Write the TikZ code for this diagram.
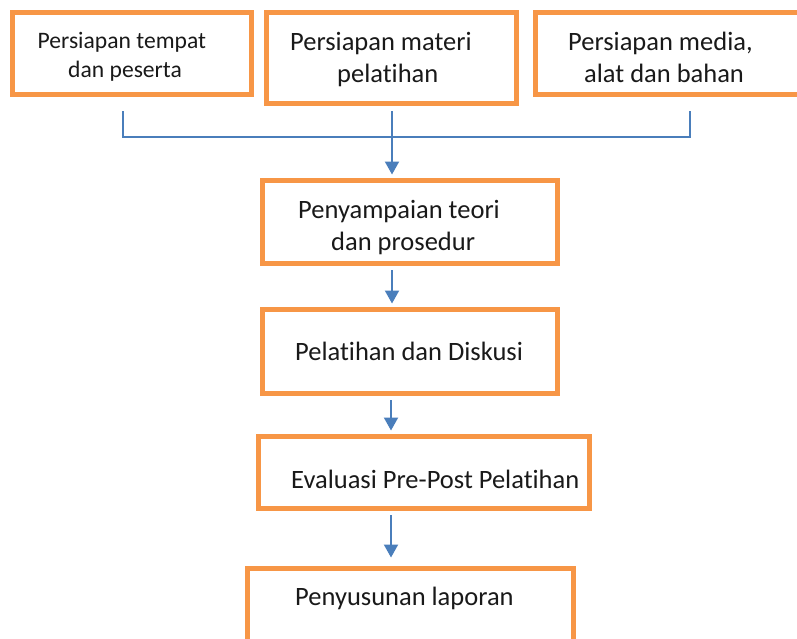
\documentclass[tikz,border=0pt]{standalone}
\usepackage{fontspec}
\setmainfont{Carlito}[Ligatures=NoCommon,RawFeature=-liga]
\usetikzlibrary{arrows.meta,calc}
\definecolor{boxorange}{HTML}{F79646}
\definecolor{lineblue}{HTML}{4A7EBB}
\tikzset{
  box/.style={draw=boxorange, line width=5pt, rectangle, inner sep=0pt, fill=none},
  txt/.style={anchor=base west, inner sep=0pt, font=\fontsize{26.5}{31}\selectfont, text=black!90},
  txtsmall/.style={anchor=base west, inner sep=0pt, font=\fontsize{23.6}{28}\selectfont, text=black!90},
  conn/.style={draw=lineblue, line width=2pt},
  arr/.style={conn, -{Triangle[length=13pt,width=14pt]}},
}
\begin{document}
\begin{tikzpicture}[x=1pt,y=-1pt]
\useasboundingbox (0,0) rectangle (797,638);
\clip (0,0) rectangle (797,638);
% boxes
\node[box, minimum width=238.5pt, minimum height=82pt] (b1) at (131.75,53) {};
\node[box, minimum width=250pt, minimum height=90.5pt] (b2) at (391,57.75) {};
\node[box, minimum width=270pt, minimum height=82pt] (b3) at (670,53) {};
\node[box, minimum width=295pt, minimum height=83pt] (b4) at (409.5,221.5) {};
\node[box, minimum width=295pt, minimum height=84pt] (b5) at (409.5,351) {};
\node[box, minimum width=331pt, minimum height=72pt] (b6) at (423.5,472) {};
\node[box, minimum width=326pt, minimum height=100pt] (b7) at (410,618) {};
% texts
\node[txtsmall] (t1a) at (37.5,48) {Persiapan tempat};
\node[txtsmall] (t1b) at (68,77) {dan peserta};
\node[txt] (t2a) at (290,50.5) {Persiapan materi};
\node[txt] (t2b) at (337,82) {pelatihan};
\node[txt] (t3a) at (568,50) {Persiapan media,};
\node[txt] (t3b) at (584,82) {alat dan bahan};
\node[txt] (t4a) at (298,218) {Penyampaian teori};
\node[txt] (t4b) at (331,250) {dan prosedur};
\node[txt] (t5) at (295,360) {Pelatihan dan Diskusi};
\node[txt] (t6) at (291,488) {Evaluasi Pre-Post Pelatihan};
\node[txt] (t7) at (295,605) {Penyusunan laporan};
% bracket
\coordinate (k1) at (123,111);
\coordinate (k2) at (392,111);
\coordinate (k3) at (690,111);
\coordinate (kb1) at (123,137);
\coordinate (kb3) at (690,137);
\draw[conn] (k1) -- (kb1) -- (kb3) -- (k3);
\draw[arr, shorten >=3pt] (k2) -- (k2 |- b4.north);
% arrows between boxes
\coordinate (a2) at (392,270);
\coordinate (a3) at (391,400);
\coordinate (a4) at (391,515);
\draw[arr, shorten >=3pt] (a2) -- (a2 |- b5.north);
\draw[arr, shorten >=3pt] (a3) -- (a3 |- b6.north);
\draw[arr, shorten >=8pt] (a4) -- (a4 |- b7.north);
\end{tikzpicture}
\end{document}
